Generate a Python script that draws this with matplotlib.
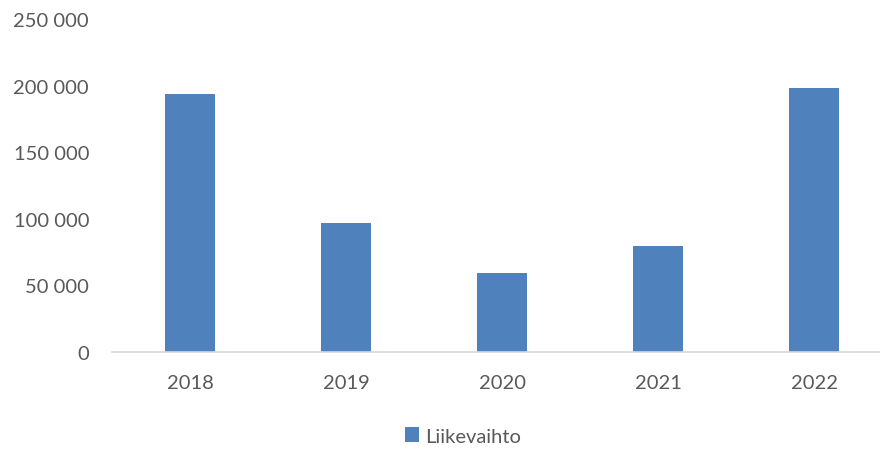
import matplotlib.pyplot as plt
from matplotlib.ticker import FuncFormatter

# Turnover per year
years = ["2018", "2019", "2020", "2021", "2022"]
liikevaihto = [193700, 97000, 59500, 79800, 198300]

plt.rcParams['font.family'] = ['Lato', 'DejaVu Sans']
text_color = '#595959'

fig = plt.figure(figsize=(8.8, 4.52), dpi=100)
ax = fig.add_axes([112 / 880, (452 - 353) / 452, 780 / 880, 333 / 452])

x = range(len(years))
ax.bar(x, liikevaihto, width=0.315, color='#4F81BD', label='Liikevaihto')

ax.set_xlim(-0.5, len(years) - 0.5)
ax.set_ylim(0, 250000)
ax.set_yticks(range(0, 250001, 50000))
ax.yaxis.set_major_formatter(FuncFormatter(lambda v, p: f"{int(v):,}".replace(",", " ")))
ax.set_xticks(list(x))
ax.set_xticklabels(years)

for s in ['top', 'right', 'left']:
    ax.spines[s].set_visible(False)
ax.spines['bottom'].set_color('#D9D9D9')
ax.spines['bottom'].set_linewidth(1.2)
ax.tick_params(axis='both', length=0, labelsize=14.5, colors=text_color)
ax.tick_params(axis='y', pad=16.5)
ax.tick_params(axis='x', pad=15.5)

fig.legend(loc='center', bbox_to_anchor=(463 / 880, 1 - 437 / 452), frameon=False,
           fontsize=14.5, labelcolor=text_color, handlelength=0.7, handleheight=0.7,
           handletextpad=0.3)

fig.savefig("out.png", dpi=100)
